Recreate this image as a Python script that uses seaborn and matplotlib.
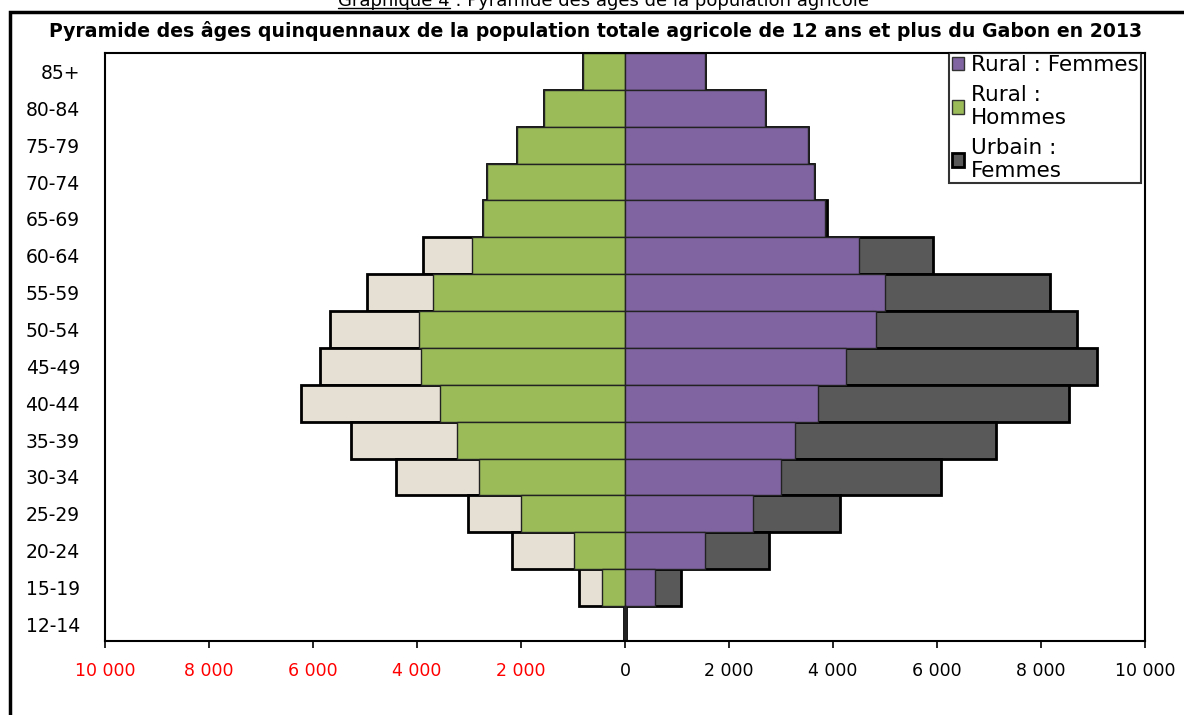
import numpy as np
import pandas as pd
import seaborn as sns
import matplotlib.pyplot as plt
import matplotlib.patches as mpatches
from matplotlib.lines import Line2D

# age groups, top to bottom
ages = ["85+", "80-84", "75-79", "70-74", "65-69", "60-64", "55-59", "50-54",
        "45-49", "40-44", "35-39", "30-34", "25-29", "20-24", "15-19", "12-14"]

# values
rural_hommes = [810, 1560, 2080, 2650, 2730, 2940, 3690, 3960,
                3920, 3560, 3230, 2810, 2000, 980, 440, 10]
urbain_hommes = [0, 0, 0, 0, 0, 950, 1270, 1710,
                 1950, 2670, 2040, 1590, 1020, 1190, 440, 5]
rural_femmes = [1540, 2690, 3520, 3630, 3850, 4500, 5000, 4830,
                4250, 3710, 3270, 3000, 2460, 1540, 580, 10]
urbain_femmes = [0, 0, 0, 0, 40, 1420, 3170, 3860,
                 4830, 4830, 3860, 3080, 1670, 1230, 500, 5]

tick_vals = [-10000, -8000, -6000, -4000, -2000, 0, 2000, 4000, 6000, 8000, 10000]
tick_labels = ["10 000", "8 000", "6 000", "4 000", "2 000", "0",
               "2 000", "4 000", "6 000", "8 000", "10 000"]

title = ("Pyramide des âges quinquennaux de la population totale agricole "
         "de 12 ans et plus du Gabon en 2013")
caption = "Graphique 4 : Pyramide des âges de la population agricole"

c_green = "#9BBB59"
c_purple = "#8064A2"
c_dark = "#595959"
c_beige = "#E6DFD3"

df = pd.DataFrame({
    "age": ages,
    "rh": rural_hommes,
    "uh": urbain_hommes,
    "rf": rural_femmes,
    "uf": urbain_femmes,
})
df["left_total"] = -(df["rh"] + df["uh"])
df["left_rural"] = -df["rh"]
df["right_total"] = df["rf"] + df["uf"]

sns.set_style("white")
plt.rcParams["font.family"] = ["DejaVu Sans"]
plt.rcParams.update({
    "text.color": "black",
    "xtick.color": "black",
    "ytick.color": "black",
    "axes.labelcolor": "black",
})

fig = plt.figure(figsize=(11.84, 7.15), dpi=100)
ax = fig.add_axes([105 / 1184, 1 - 641 / 715, 1040 / 1184, 588 / 715])

common = dict(data=df, y="age", order=ages, orient="h", saturation=1,
              width=1.0, errorbar=None, ax=ax)
# stacked: totals first (urban part shows beyond), then the rural part on top
sns.barplot(x="left_total", color=c_beige, edgecolor="black", linewidth=2, **common)
sns.barplot(x="right_total", color=c_dark, edgecolor="black", linewidth=2, **common)
sns.barplot(x="left_rural", color=c_green, edgecolor="#222222", linewidth=1, **common)
sns.barplot(x="rf", color=c_purple, edgecolor="#222222", linewidth=1, **common)

ax.axvline(0, color="black", lw=2.2, zorder=0.5)

ax.set_xlim(-10000, 10000)
ax.set_ylim(15.45, -0.5)
ax.set_xlabel("")
ax.set_ylabel("")
ax.set_xticks(tick_vals)
ax.set_xticklabels(tick_labels, fontsize=12.5)
for lab, v in zip(ax.get_xticklabels(), tick_vals):
    lab.set_color("red" if v < 0 else "black")
ax.tick_params(axis="x", bottom=True, direction="out", length=5, width=1.2, pad=10)
ax.tick_params(axis="y", left=False, length=0, pad=18, labelsize=13.5)
for s in ax.spines.values():
    s.set_visible(True)
    s.set_color("black")
    s.set_linewidth(1.5)

handles = [
    mpatches.Patch(facecolor=c_purple, edgecolor="#333333", lw=1),
    mpatches.Patch(facecolor=c_green, edgecolor="#333333", lw=1),
    mpatches.Patch(facecolor=c_dark, edgecolor="black", lw=2),
]
labels = ["Rural : Femmes", "Rural :\nHommes", "Urbain :\nFemmes"]
leg = ax.legend(handles, labels, loc="upper right", bbox_to_anchor=(0.996, 1.0),
                borderaxespad=0, frameon=True, fancybox=False, fontsize=15.5,
                handlelength=0.6, handleheight=0.6, handletextpad=0.3,
                labelspacing=0.45, borderpad=0.1)
leg.get_frame().set_edgecolor("black")
leg.get_frame().set_linewidth(1.5)
for t in leg.get_texts():
    t.set_color("black")
    t.set_linespacing(1.2)

fig.text(0.503, 1 - 31 / 715, title, ha="center", va="center",
         fontsize=13.6, fontweight="bold")

# caption cut off at the top of the image, with underlined "Graphique 4"
cap = fig.text(0.51, 1 - 6 / 715, caption, ha="center", va="baseline", fontsize=13)
fig.canvas.draw()
r = fig.canvas.get_renderer()
bb = cap.get_window_extent(r)
part = fig.text(0, 0, "Graphique 4", fontsize=13, alpha=0)
pw = part.get_window_extent(r).width
W, H = fig.bbox.width, fig.bbox.height
y_ul = (bb.y0 + 2) / H
fig.add_artist(Line2D([bb.x0 / W, (bb.x0 + pw) / W], [y_ul, y_ul],
                      transform=fig.transFigure, color="black", lw=1))

# outer frame (top and left edges visible)
fig.add_artist(mpatches.Rectangle((10 / 1184, -0.1), 1.2, 1.1 - 12 / 715,
                                  transform=fig.transFigure, fill=False,
                                  edgecolor="black", lw=2.5))

fig.savefig("out.png", dpi=100)
